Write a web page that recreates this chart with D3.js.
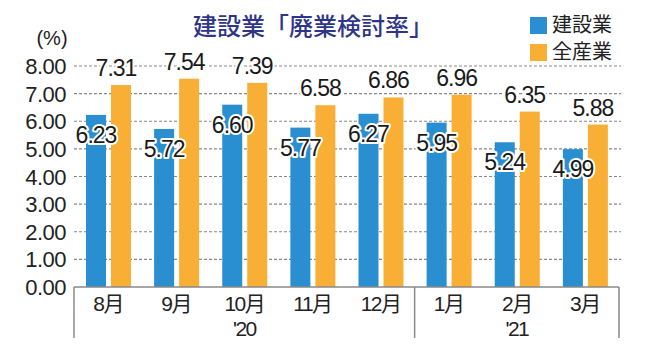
<!DOCTYPE html>
<html><head><meta charset="utf-8">
<script src="https://cdn.jsdelivr.net/npm/d3@7"></script>
<style>
body{margin:0;background:#fff;}
svg{display:block;font-family:"Liberation Sans",Arial,"Noto Sans CJK JP",sans-serif;}
</style></head>
<body><svg id="c" width="648" height="357"></svg>
<script>
const categories = ["8月","9月","10月","11月","12月","1月","2月","3月"];
const construction = [6.23,5.72,6.60,5.77,6.27,5.95,5.24,4.99];
const allIndustry = [7.31,7.54,7.39,6.58,6.86,6.96,6.35,5.88];
const yTicks = [0,1,2,3,4,5,6,7,8];
const yearGroups = [{label:"'20", from:0, to:4},{label:"'21", from:5, to:7}];
const seriesNames = ["建設業","全産業"];
const colors = ["#2a8fd0","#f9af36"];

const svg = d3.select("#c");
const pL = 74, pR = 619, pT = 66, pB = 287;
const x = d3.scaleBand().domain(categories).range([pL,pR]).paddingInner(0).paddingOuter(0);
const y = d3.scaleLinear().domain([0,8]).range([pB,pT]);
const bw = 20, gap = 5;
const bx = c => x(c) + 12;

// gridlines
svg.append("g").selectAll("line").data(yTicks.filter(d=>d>0)).join("line")
  .attr("x1",pL).attr("x2",pR+2).attr("y1",d=>y(d)).attr("y2",d=>y(d))
  .attr("stroke","#888").attr("stroke-width",1.2).attr("stroke-dasharray","3,2");

// y tick labels
svg.append("g").selectAll("text").data(yTicks).join("text")
  .attr("x",66).attr("y",d=>y(d)+8).attr("text-anchor","end")
  .attr("font-size",22).attr("letter-spacing",-0.5).attr("fill","#222")
  .text(d=>d3.format(".2f")(d));
svg.append("text").attr("x",52).attr("y",45).attr("text-anchor","middle")
  .attr("font-size",20).attr("fill","#222").text("(%)");

// bars
const g = svg.append("g");
g.selectAll("rect.a").data(construction).join("rect").attr("class","a")
  .attr("x",(d,i)=>bx(categories[i])).attr("width",bw)
  .attr("y",d=>y(d)).attr("height",d=>pB-y(d)).attr("fill",colors[0]);
g.selectAll("rect.b").data(allIndustry).join("rect").attr("class","b")
  .attr("x",(d,i)=>bx(categories[i])+bw+gap).attr("width",bw)
  .attr("y",d=>y(d)).attr("height",d=>pB-y(d)).attr("fill",colors[1]);

// axis
svg.append("line").attr("x1",pL).attr("x2",pR).attr("y1",pB).attr("y2",pB)
  .attr("stroke","#888").attr("stroke-width",1.5);
const seps = [0,5,8].map(i=> i<8 ? x(categories[i]) : pR);
svg.append("g").selectAll("line").data(seps).join("line")
  .attr("x1",d=>d).attr("x2",d=>d).attr("y1",pB).attr("y2",338)
  .attr("stroke","#888").attr("stroke-width",1.5);

svg.append("g").selectAll("text").data(categories).join("text")
  .attr("x",d=>x(d)+x.bandwidth()/2).attr("y",311).attr("text-anchor","middle")
  .attr("font-size",21).attr("letter-spacing",-1.5).attr("fill","#222").text(d=>d);
svg.append("g").selectAll("text").data(yearGroups).join("text")
  .attr("x",d=>(x(categories[d.from])+x(categories[d.to])+x.bandwidth())/2)
  .attr("y",336).attr("text-anchor","middle")
  .attr("font-size",21).attr("letter-spacing",-1.5).attr("fill","#222").text(d=>d.label);

// data labels
function lab(sel){
  sel.attr("font-size",23).attr("letter-spacing",-1).attr("text-anchor","middle")
    .attr("fill","#1a1a1a").attr("stroke","#fff").attr("stroke-width",4)
    .attr("paint-order","stroke").attr("stroke-linejoin","round");
}
svg.append("g").selectAll("text").data(construction).join("text")
  .attr("x",(d,i)=>bx(categories[i])+bw/2).attr("y",d=>y(d)+28)
  .text(d=>d3.format(".2f")(d)).call(lab);
svg.append("g").selectAll("text").data(allIndustry).join("text")
  .attr("x",(d,i)=>bx(categories[i])+bw+gap+bw/2-5).attr("y",d=>y(d)-9)
  .text(d=>d3.format(".2f")(d)).call(lab);

// title
svg.append("text").attr("x",313).attr("y",35).attr("text-anchor","middle")
  .attr("font-family","'Noto Sans CJK JP',sans-serif").attr("font-size",24).attr("font-weight",500)
  .attr("fill","#2e3589").text("建設業「廃業検討率」");

// legend
const lg = svg.append("g");
seriesNames.forEach((n,i)=>{
  lg.append("rect").attr("x",530).attr("y",17+i*27).attr("width",17).attr("height",17).attr("fill",colors[i]);
  lg.append("text").attr("x",552).attr("y",32+i*27).attr("font-size",20)
    .attr("font-family","'Noto Sans CJK JP',sans-serif").attr("fill","#222").text(n);
});
</script></body></html>
